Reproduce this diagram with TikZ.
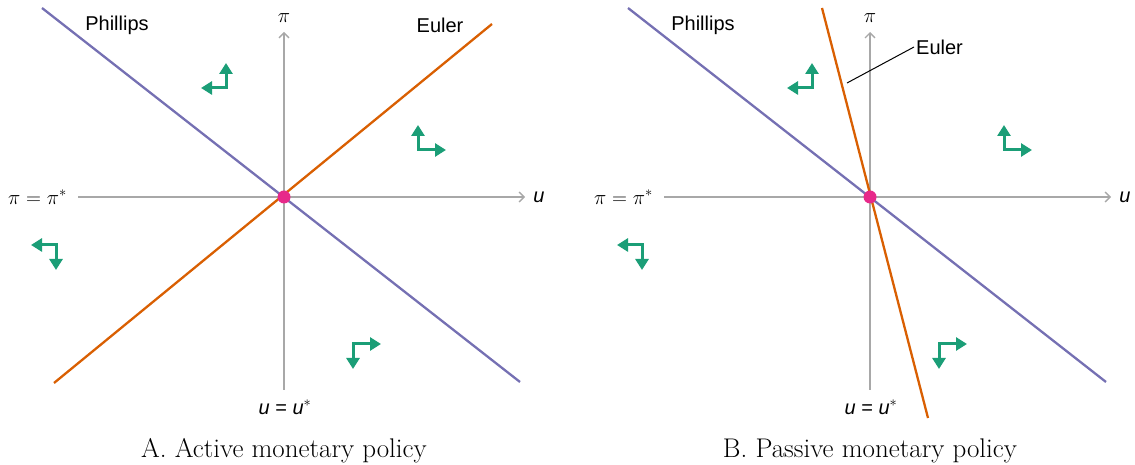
\documentclass[tikz,border=0pt]{standalone}
\usepackage{fontspec}
\usepackage{tikz}
\usetikzlibrary{arrows.meta,positioning}
\newfontfamily\labfont{Liberation Sans}
\definecolor{PhilCol}{HTML}{7570B3}
\definecolor{EulerCol}{HTML}{D95F02}
\definecolor{FlowCol}{HTML}{1B9E77}
\definecolor{SteadyCol}{HTML}{E7298A}
\definecolor{AxisCol}{HTML}{A8A8A8}

\begin{document}
\begin{tikzpicture}[x=1pt,y=1pt,
  axis/.style={AxisCol, line width=1.3pt, -{Straight Barb[length=5pt,width=10pt]}},
  curve/.style={line width=2.3pt},
  flow/.style={FlowCol, line width=3pt, line join=miter,
    {Triangle[length=11pt,width=13pt]}-{Triangle[length=11pt,width=13pt]}},
  lab/.style={font=\labfont\fontsize{20}{24}\selectfont, inner sep=2pt},
  steady/.style={circle, fill=SteadyCol, inner sep=0pt, minimum size=13pt}]
  \useasboundingbox (0,0) rectangle (1135,465);
  % both panels: axes, Phillips curve, flows
  \foreach \dx/\p/\pol in {0/A/Active, 586/B/Passive}{
    \coordinate (xl\p) at (\dx+78,268);
    \coordinate (xr\p) at (\dx+525,268);
    \coordinate (yb\p) at (\dx+284,75);
    \coordinate (yt\p) at (\dx+284,433);
    \draw[axis] (xl\p) -- (xr\p);
    \draw[axis] (yb\p) -- (yt\p);
    \node[lab, font=\labfont\itshape\fontsize{20}{24}\selectfont] (u\p) at (\dx+539,268) {u};
    \node[font=\fontsize{21}{24}\selectfont] (pi\p) at (\dx+284,447) {$\pi$};
    \node[lab, anchor=east] (pistar\p) at (\dx+69,268) {$\pi = \pi^{*}$};
    \node[lab] (ustar\p) at (\dx+285,58) {\itshape u \upshape= \itshape u\upshape$^{*}$};
    % Phillips curve
    \coordinate (ph1\p) at (\dx+42,457);
    \coordinate (ph2\p) at (\dx+520,83);
    \draw[curve, PhilCol] (ph1\p) -- (ph2\p);
    \node[lab] (phil\p) at (\dx+117,440) {Phillips};
    % dynamics
    \draw[flow] (\dx+201,377) -- (\dx+226,377) -- (\dx+226,402);
    \draw[flow] (\dx+418,340) -- (\dx+418,315) -- (\dx+446,315);
    \draw[flow] (\dx+31,220) -- (\dx+56,220) -- (\dx+56,195);
    \draw[flow] (\dx+381,121) -- (\dx+353,121) -- (\dx+353,96);
    \node[anchor=base, font=\fontsize{27}{31}\selectfont] (cap\p) at (\dx+284,7)
      {\p. \pol\ monetary policy};
  }
  % Euler, active
  \coordinate (eu1A) at (54,82);
  \coordinate (eu2A) at (492,441);
  \draw[curve, EulerCol] (eu1A) -- (eu2A);
  \node[lab] (eulerA) at (440,440) {Euler};
  % Euler, passive
  \coordinate (eu1B) at (822,457);
  \coordinate (eu2B) at (928,47);
  \draw[curve, EulerCol] (eu1B) -- (eu2B);
  \node[lab, anchor=west] (eulerB) at (914,418) {Euler};
  \coordinate (eulerBpt) at (847,382);
  \draw[line width=1pt] (eulerB.west) -- (eulerBpt);
  % steady states
  \node[steady] (eqA) at (284,268) {};
  \node[steady] (eqB) at (870,268) {};
\end{tikzpicture}
\end{document}
